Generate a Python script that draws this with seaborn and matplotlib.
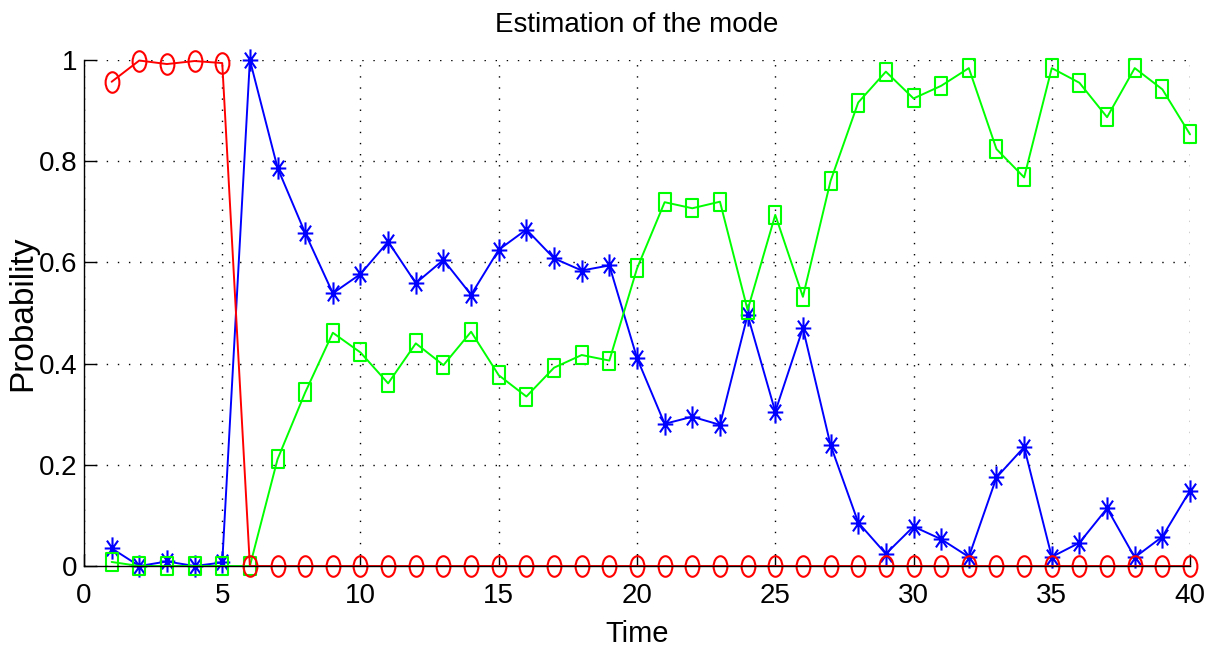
import matplotlib
matplotlib.use("Agg")
import matplotlib.pyplot as plt
from matplotlib.path import Path
from matplotlib.transforms import Affine2D
import pandas as pd
import seaborn as sns

# Mode probabilities over time
time = [1, 2, 3, 4, 5, 6, 7, 8, 9, 10,
        11, 12, 13, 14, 15, 16, 17, 18, 19, 20,
        21, 22, 23, 24, 25, 26, 27, 28, 29, 30,
        31, 32, 33, 34, 35, 36, 37, 38, 39, 40]

mode_1 = [0.957, 0.999, 0.992, 0.998, 0.994, 0.0, 0.0, 0.0, 0.0, 0.0,
          0.0, 0.0, 0.0, 0.0, 0.0, 0.0, 0.0, 0.0, 0.0, 0.0,
          0.0, 0.0, 0.0, 0.0, 0.0, 0.0, 0.0, 0.0, 0.0, 0.0,
          0.0, 0.0, 0.0, 0.0, 0.0, 0.0, 0.0, 0.0, 0.0, 0.0]

mode_2 = [0.035, 0.0, 0.009, 0.0, 0.007, 1.0, 0.787, 0.658, 0.539, 0.577,
          0.641, 0.559, 0.605, 0.536, 0.625, 0.665, 0.608, 0.584, 0.594, 0.411,
          0.281, 0.295, 0.279, 0.496, 0.305, 0.470, 0.239, 0.086, 0.024, 0.078,
          0.053, 0.018, 0.175, 0.235, 0.018, 0.046, 0.114, 0.017, 0.058, 0.149]

mode_3 = [0.008, 0.0, 0.0, 0.0, 0.0, 0.0, 0.211, 0.343, 0.461, 0.422,
          0.361, 0.440, 0.397, 0.463, 0.377, 0.335, 0.392, 0.417, 0.406, 0.588,
          0.719, 0.707, 0.720, 0.506, 0.694, 0.532, 0.761, 0.916, 0.977, 0.924,
          0.949, 0.984, 0.824, 0.768, 0.984, 0.955, 0.887, 0.984, 0.942, 0.853]

x_ticks = [0, 5, 10, 15, 20, 25, 30, 35, 40]
y_ticks = [0, 0.2, 0.4, 0.6, 0.8, 1.0]
y_tick_labels = ["0", "0.2", "0.4", "0.6", "0.8", "1"]

sns.set_theme(style="white")
plt.rcParams["font.family"] = ["Liberation Sans", "DejaVu Sans"]
plt.rcParams["text.color"] = "black"
plt.rcParams["axes.labelcolor"] = "black"

# Markers a little taller than wide
ellipse = Path.unit_circle().transformed(Affine2D().scale(0.67, 1.0))
square = Path([(-0.7, -1), (0.7, -1), (0.7, 1), (-0.7, 1), (-0.7, -1)],
              [Path.MOVETO, Path.LINETO, Path.LINETO, Path.LINETO, Path.CLOSEPOLY])
asterisk = Path([(0, -1), (0, 1), (-0.7, 0), (0.7, 0),
                 (-0.5, -0.71), (0.5, 0.71), (-0.5, 0.71), (0.5, -0.71)],
                [Path.MOVETO, Path.LINETO] * 4)

df = pd.DataFrame({"time": time, "m1": mode_1, "m2": mode_2, "m3": mode_3})

fig = plt.figure(figsize=(12.1, 6.53), dpi=100)
ax = fig.add_axes([0.0694, 0.1332, 0.9141, 0.7749])

series = [("m2", "#0000ff", asterisk, 16.0),
          ("m3", "#00ff00", square, 12.6),
          ("m1", "#ff0000", ellipse, 14.8)]
for col, color, mk, ms in series:
    sns.lineplot(data=df, x="time", y=col, ax=ax, color=color, linewidth=1.4,
                 marker=mk, markersize=ms, markerfacecolor="none",
                 markeredgecolor=color, markeredgewidth=1.5, clip_on=False)

ax.set_xlim(0, 40)
ax.set_ylim(0, 1)
ax.set_xticks(x_ticks)
ax.set_xticklabels([str(t) for t in x_ticks])
ax.set_yticks(y_ticks)
ax.set_yticklabels(y_tick_labels)
ax.tick_params(axis="both", direction="in", length=9, width=1, labelsize=20,
               colors="black", left=True, bottom=True)
ax.tick_params(axis="x", pad=12)
ax.tick_params(axis="y", pad=5)
ax.grid(True, color="black", linestyle=(0, (1, 7)), linewidth=1.0)
for side in ["top", "right"]:
    ax.spines[side].set_visible(False)
for side in ["left", "bottom"]:
    ax.spines[side].set_color("black")
    ax.spines[side].set_linewidth(1.0)

ax.set_title("Estimation of the mode", fontsize=20, pad=20)
ax.set_xlabel("Time", fontsize=21, labelpad=8)
ax.set_ylabel("Probability", fontsize=24, labelpad=0)

fig.savefig("out.png", dpi=100)
